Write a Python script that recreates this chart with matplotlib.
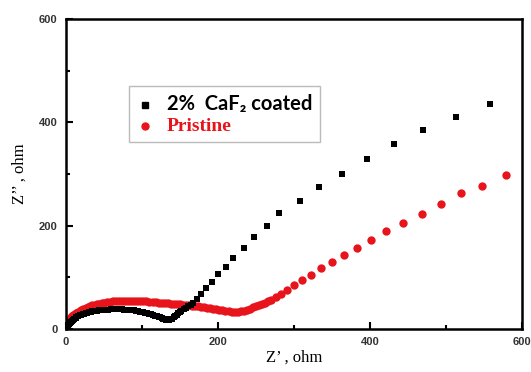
import numpy as np
import matplotlib.pyplot as plt
from matplotlib.lines import Line2D

# 2% CaF2 coated (black squares)
coated_x = [0, 1, 2, 3, 4, 5, 6, 7, 8, 10, 11, 13, 14, 16, 18, 20, 22, 24, 26, 28,
            30, 33, 35, 38, 41, 44, 47, 50, 53, 56, 59, 62, 65, 68, 71, 74, 77, 80,
            83, 86, 89, 92, 95, 98, 101, 104, 107, 110, 112, 115, 117, 120, 122, 124,
            126, 128, 130, 132, 134, 136, 138, 140, 142, 144, 146, 148, 150, 152, 155,
            158, 161, 164, 167, 172, 178, 184, 192, 200, 211, 220, 234, 247, 265,
            280, 308, 333, 363, 396, 432, 470, 513, 558]
coated_y = [0, 3, 5, 7, 9, 11, 13, 14, 16, 18, 19, 21, 22, 24, 26, 27, 28, 29, 30, 31,
            32, 33, 34, 35, 35, 36, 36, 37, 37, 37, 38, 38, 38, 38, 38, 38, 37, 37,
            37, 36, 36, 35, 34, 33, 32, 31, 30, 29, 28, 26, 25, 24, 23, 22,
            21, 20, 19, 18, 18, 18, 19, 20, 22, 25, 27, 30, 33, 35, 38,
            41, 44, 47, 50, 58, 68, 79, 91, 106, 120, 137, 157, 178, 199,
            224, 248, 275, 300, 329, 358, 385, 410, 435]

# Pristine (red circles)
pristine_x = [0, 1, 2, 3, 4, 5, 6, 7, 8, 10, 12, 14, 16, 18, 20, 23, 26, 29, 32, 35,
              38, 41, 44, 47, 50, 54, 58, 62, 66, 70, 74, 78, 82, 86, 90, 94, 98, 102,
              106, 110, 114, 118, 122, 126, 130, 134, 138, 142, 146, 150, 154, 158, 162,
              166, 170, 174, 178, 182, 186, 190, 194, 198, 202, 206, 210, 214, 218, 222,
              226, 230, 234, 238, 242, 246, 250, 254, 258, 262, 266, 270, 276, 283, 291,
              300, 311, 322, 336, 350, 366, 383, 401, 421, 443, 468, 493, 520, 547, 579]
pristine_y = [3, 7, 10, 13, 16, 18, 20, 22, 24, 26, 29, 31, 33, 35, 37, 39, 41, 43, 44, 46,
              47, 48, 49, 50, 51, 52, 52, 53, 53, 54, 54, 54, 54, 54, 54, 54, 53, 53,
              53, 52, 52, 52, 51, 51, 50, 50, 49, 49, 48, 48, 47, 47, 46,
              45, 45, 44, 43, 42, 41, 40, 39, 38, 37, 36, 35, 34, 33, 33,
              33, 34, 35, 37, 39, 42, 44, 46, 48, 50, 53, 56, 62, 68, 75,
              85, 95, 104, 118, 130, 143, 157, 172, 190, 205, 223, 242, 263, 277, 298]

fig = plt.figure(figsize=(5.31, 3.72), dpi=100)
ax = fig.add_axes([0.124, 0.116, 0.859, 0.833])

ax.scatter(pristine_x, pristine_y, s=36, marker='o', color='#e8141b', linewidths=0, zorder=2)
ax.scatter(coated_x, coated_y, s=24, marker='s', color='black', linewidths=0, zorder=3)

ax.set_xlim(0, 600)
ax.set_ylim(0, 600)
ax.set_xticks([0, 200, 400, 600])
ax.set_yticks([0, 200, 400, 600])
ax.set_xticks([100, 300, 500], minor=True)
ax.set_yticks([100, 300, 500], minor=True)
ax.tick_params(which='both', direction='in', width=1.5)
ax.tick_params(which='major', length=5, pad=6)
ax.tick_params(which='minor', length=3)
for lab in ax.get_xticklabels() + ax.get_yticklabels():
    lab.set_family('Liberation Sans')
    lab.set_fontweight('bold')
    lab.set_fontsize(8)
    lab.set_color('#333333')
for sp in ax.spines.values():
    sp.set_linewidth(1.8)

ax.set_xlabel('Z’ , ohm', family='Liberation Serif', fontsize=12, labelpad=2)
ax.set_ylabel('Z’’ , ohm', family='Liberation Serif', fontsize=12, labelpad=8)

handles = [Line2D([], [], marker='s', color='black', ls='none', markersize=4.5),
           Line2D([], [], marker='o', color='#e8141b', ls='none', markersize=5)]
leg = ax.legend(handles, ['2%  CaF₂ coated', 'Pristine'], loc='upper left',
                bbox_to_anchor=(0.138, 0.784), borderaxespad=0, frameon=True,
                fancybox=False, edgecolor='#bbbbbb', framealpha=1,
                handletextpad=0.9, handlelength=1.3, borderpad=0.55,
                labelspacing=0.3)
leg.get_frame().set_linewidth(1.0)
t1, t2 = leg.get_texts()
t1.set_family(['Lato', 'DejaVu Sans'])
t1.set_fontweight('bold')
t1.set_fontsize(14.5)
t2.set_family('Liberation Serif')
t2.set_fontweight('bold')
t2.set_fontsize(14)
t2.set_color('#e8141b')

fig.savefig('out.png', dpi=100)
